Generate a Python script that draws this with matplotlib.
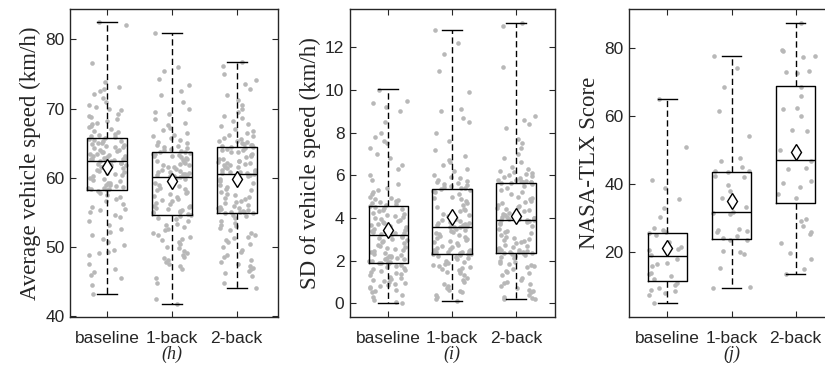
import numpy as np
import matplotlib
matplotlib.use("Agg")
import matplotlib.pyplot as plt

# groups shown on every panel
groups = ["baseline", "1-back", "2-back"]

# ---- panel (h): average vehicle speed (km/h) ----
speed_baseline = [
    82.5, 82.1, 76.6, 73.8, 73.2, 72.8, 72.5, 72.1, 71.5, 71.0, 70.6, 70.3, 70.0, 69.8, 69.2, 69.0,
    68.8, 68.5, 68.2, 68.0, 67.8, 67.5, 67.3, 67.0, 66.8, 66.6, 66.4, 66.2, 66.0, 65.9,
    65.7, 65.6, 65.5, 65.4, 65.3, 65.1, 65.0, 64.9, 64.8, 64.6, 64.5, 64.4, 64.3, 64.1, 64.0, 63.9,
    63.8, 63.7, 63.5, 63.4, 63.3, 63.2, 63.1, 63.0, 62.9, 62.9, 62.8, 62.7, 62.7, 62.6, 62.6, 62.5,
    62.4, 62.3, 62.2, 62.1, 62.0, 61.9, 61.8, 61.6, 61.5, 61.4, 61.2, 61.0, 60.9, 60.7, 60.5, 60.4,
    60.2, 60.0, 59.9, 59.7, 59.5, 59.3, 59.2, 59.0, 58.9, 58.8, 58.7, 58.6, 58.5, 58.4, 58.4, 58.3,
    58.1, 57.8, 57.5, 57.3, 57.0, 56.6, 56.2, 55.8, 55.5, 55.3, 55.0, 54.6, 54.3, 53.8, 53.2, 52.6,
    52.2, 51.8, 51.2, 50.8, 50.3, 49.6, 49.3, 49.1, 48.9, 47.5, 46.9, 46.4, 46.0, 45.6, 44.5, 43.2,
]
speed_1back = [
    80.9, 76.0, 75.4, 74.3, 73.4, 72.5, 72.0, 71.0, 70.0, 69.5, 69.3, 68.5, 68.0, 67.6, 67.2, 66.9,
    66.5, 66.2, 66.0, 65.7, 65.5, 65.2, 65.0, 64.8, 64.6, 64.5, 64.3, 64.2, 64.0, 63.9, 63.8, 63.7,
    63.6, 63.5, 63.4, 63.3, 63.2, 63.1, 63.0, 62.9, 62.7, 62.6, 62.5, 62.3, 62.2, 62.0, 61.9, 61.8,
    61.6, 61.5, 61.3, 61.2, 61.0, 60.9, 60.8, 60.7, 60.6, 60.5, 60.4, 60.4, 60.3, 60.2, 60.2, 60.1,
    60.0, 59.8, 59.6, 59.4, 59.2, 59.0, 58.8, 58.6, 58.4, 58.2, 58.0, 57.8, 57.6, 57.4, 57.2, 57.0,
    56.8, 56.6, 56.4, 56.2, 56.0, 55.9, 55.8, 55.6, 55.5, 55.4, 55.2, 55.1, 55.0, 54.9, 54.8, 54.7,
    54.5, 54.2, 54.0, 53.7, 53.4, 53.2, 52.9, 52.6, 52.4, 52.1, 51.8, 51.5, 51.2, 51.0, 50.8, 50.4,
    50.0, 49.8, 49.5, 49.2, 48.9, 48.6, 48.4, 48.1, 47.8, 47.5, 47.2, 46.8, 45.5, 44.8, 42.5, 41.8,
]
speed_2back = [
    76.8, 76.2, 75.0, 74.2, 73.5, 72.8, 72.0, 71.3, 70.6, 70.0, 69.5, 69.0, 68.6, 68.2, 67.8, 67.5,
    67.1, 66.8, 66.5, 66.2, 66.0, 65.8, 65.6, 65.4, 65.3, 65.2, 65.0, 64.9, 64.8, 64.7, 64.6, 64.5,
    64.4, 64.3, 64.2, 64.1, 64.0, 63.8, 63.7, 63.5, 63.3, 63.2, 63.0, 62.8, 62.7, 62.5, 62.4, 62.3,
    62.2, 62.1, 62.0, 61.9, 61.8, 61.6, 61.5, 61.4, 61.2, 61.1, 61.0, 60.9, 60.8, 60.7, 60.7, 60.6,
    60.4, 60.2, 59.9, 59.6, 59.3, 59.0, 58.7, 58.4, 58.2, 57.9, 57.7, 57.5, 57.3, 57.1, 56.9, 56.7,
    56.5, 56.3, 56.1, 55.9, 55.8, 55.7, 55.6, 55.5, 55.4, 55.3, 55.2, 55.1, 55.0, 55.0, 54.9, 54.9,
    54.7, 54.5, 54.2, 53.8, 53.5, 53.2, 53.0, 52.7, 52.4, 52.1, 51.8, 51.5, 51.3, 51.0, 50.8, 50.5,
    50.0, 49.6, 49.3, 48.9, 48.5, 48.2, 47.9, 47.6, 47.3, 47.0, 46.8, 46.5, 46.2, 45.8, 44.8, 44.1,
]
speed_q1 = [58.3, 54.7, 54.9]
speed_med = [62.5, 60.1, 60.6]
speed_q3 = [65.8, 63.7, 64.5]
speed_lo = [43.2, 41.8, 44.1]
speed_hi = [82.5, 80.9, 76.8]
speed_mean = [61.6, 59.5, 59.8]

# ---- panel (i): SD of vehicle speed (km/h) ----
sd_baseline = [
    10.0, 9.5, 9.4, 9.2, 9.0, 8.5, 8.0, 7.8, 7.6, 7.5, 7.3, 7.0, 6.8, 6.5, 6.3, 6.0,
    5.8, 5.6, 5.4, 5.3, 5.2, 5.1, 5.0, 4.95, 4.9, 4.85, 4.8, 4.75, 4.7, 4.65, 4.6, 4.55,
    4.5, 4.45, 4.4, 4.35, 4.3, 4.25, 4.2, 4.15, 4.1, 4.05, 4.0, 3.95, 3.9, 3.85, 3.8, 3.75,
    3.7, 3.65, 3.6, 3.55, 3.5, 3.45, 3.45, 3.4, 3.4, 3.35, 3.3, 3.3, 3.25, 3.25, 3.2, 3.2,
    3.15, 3.1, 3.05, 3.0, 2.95, 2.9, 2.85, 2.8, 2.75, 2.7, 2.65, 2.6, 2.55, 2.5, 2.45, 2.4,
    2.35, 2.3, 2.25, 2.2, 2.2, 2.15, 2.1, 2.1, 2.05, 2.05, 2.0, 2.0, 1.95, 1.95, 1.9, 1.9,
    1.85, 1.8, 1.75, 1.7, 1.65, 1.6, 1.55, 1.5, 1.45, 1.4, 1.35, 1.3, 1.25, 1.2, 1.15, 1.1,
    1.05, 1.0, 0.95, 0.9, 0.85, 0.8, 0.75, 0.7, 0.6, 0.55, 0.5, 0.4, 0.3, 0.15, 0.05, 0.0,
]
sd_1back = [
    12.8, 12.2, 11.7, 10.9, 9.9, 9.1, 9.0, 8.7, 8.5, 8.0, 7.6, 7.2, 6.9, 6.7, 6.6, 6.5,
    6.3, 6.2, 6.0, 5.9, 5.85, 5.8, 5.75, 5.7, 5.65, 5.6, 5.55, 5.5, 5.45, 5.4, 5.4, 5.35,
    5.3, 5.25, 5.2, 5.1, 5.0, 4.95, 4.9, 4.8, 4.7, 4.6, 4.5, 4.4, 4.35, 4.3, 4.2, 4.15,
    4.1, 4.0, 3.95, 3.9, 3.85, 3.8, 3.78, 3.75, 3.7, 3.68, 3.65, 3.62, 3.6, 3.58, 3.56, 3.55,
    3.5, 3.45, 3.4, 3.35, 3.3, 3.25, 3.2, 3.15, 3.1, 3.05, 3.0, 2.95, 2.9, 2.85, 2.8, 2.75,
    2.7, 2.65, 2.6, 2.55, 2.5, 2.48, 2.45, 2.42, 2.4, 2.38, 2.36, 2.34, 2.32, 2.31, 2.3, 2.3,
    2.25, 2.2, 2.15, 2.1, 2.05, 2.0, 1.95, 1.9, 1.85, 1.8, 1.75, 1.7, 1.65, 1.6, 1.55, 1.5,
    1.45, 1.4, 1.3, 1.2, 1.1, 1.0, 0.9, 0.8, 0.7, 0.6, 0.55, 0.5, 0.4, 0.3, 0.2, 0.12,
]
sd_2back = [
    13.15, 13.0, 11.1, 8.8, 8.6, 8.4, 8.2, 7.7, 7.5, 7.3, 7.0, 6.8, 6.6, 6.4, 6.3, 6.2,
    6.15, 6.1, 6.05, 6.0, 5.95, 5.9, 5.85, 5.8, 5.78, 5.75, 5.72, 5.7, 5.68, 5.67, 5.66, 5.65,
    5.6, 5.5, 5.4, 5.3, 5.2, 5.1, 5.0, 4.95, 4.9, 4.8, 4.75, 4.7, 4.6, 4.55, 4.5, 4.45,
    4.4, 4.35, 4.3, 4.25, 4.2, 4.15, 4.1, 4.05, 4.02, 4.0, 3.98, 3.96, 3.94, 3.92, 3.91, 3.9,
    3.85, 3.8, 3.75, 3.7, 3.6, 3.5, 3.4, 3.35, 3.3, 3.2, 3.1, 3.05, 3.0, 2.95, 2.9, 2.85,
    2.8, 2.75, 2.7, 2.65, 2.6, 2.55, 2.5, 2.48, 2.45, 2.43, 2.41, 2.4, 2.38, 2.37, 2.36, 2.35,
    2.3, 2.25, 2.2, 2.15, 2.1, 2.0, 1.95, 1.9, 1.85, 1.8, 1.75, 1.7, 1.6, 1.5, 1.45, 1.4,
    1.3, 1.2, 1.1, 1.0, 0.95, 0.9, 0.8, 0.7, 0.6, 0.55, 0.5, 0.4, 0.3, 0.25, 0.2, 0.18,
]
sd_q1 = [1.9, 2.3, 2.35]
sd_med = [3.2, 3.55, 3.9]
sd_q3 = [4.55, 5.35, 5.65]
sd_lo = [0.0, 0.12, 0.18]
sd_hi = [10.05, 12.8, 13.15]
sd_mean = [3.45, 4.05, 4.1]

# ---- panel (j): NASA-TLX score ----
tlx_baseline = [65.0, 50.7, 41.3, 38.7, 35.5, 33.1, 30.4, 27.0, 26.5, 26.0, 25.5, 25.0, 23.0, 21.6, 21.0, 20.5,
                19.1, 18.0, 16.7, 16.5, 16.0, 13.8, 13.5, 13.0, 12.0, 10.9, 10.5, 9.5, 8.8, 8.5, 8.0, 7.5, 5.1]
tlx_1back = [77.5, 73.9, 68.3, 61.4, 54.1, 47.5, 46.8, 45.0, 43.8, 43.8, 43.5, 42.3, 42.0, 39.7, 38.0, 35.8, 33.3,
             31.7, 31.5, 31.2, 26.8, 26.5, 26.2, 25.8, 24.8, 24.3, 23.7, 23.5, 20.3, 20.0, 19.6, 15.4, 9.9, 9.6]
tlx_2back = [87.3, 79.3, 79.0, 77.6, 77.2, 73.2, 72.8, 72.4, 68.5, 65.9, 62.3, 61.9, 59.9, 55.9, 55.5, 49.9, 49.7,
             46.7, 44.6, 44.3, 40.8, 40.3, 39.2, 37.2, 35.8, 29.6, 29.2, 27.6, 25.8, 25.3, 22.6, 19.8, 17.9, 15.2, 13.7]
tlx_q1 = [11.6, 24.0, 34.5]
tlx_med = [19.0, 31.7, 47.0]
tlx_q3 = [25.5, 43.6, 68.7]
tlx_lo = [5.1, 9.6, 13.7]
tlx_hi = [65.0, 77.5, 87.3]
tlx_mean = [21.3, 35.0, 49.4]

SANS = "Liberation Sans"
SERIF = "Liberation Serif"
AX_COLOR = "#262626"


def spread(n, seed):
    # fixed sideways spread in [-0.5, 0.5), a hash of the point index
    k = np.arange(n) + seed * 1000
    return (np.sin(k * 12.9898 + 78.233) * 43758.5453) % 1.0 - 0.5


def draw_panel(ax, points, q1, med, q3, lo, hi, means, ylabel, caption, yticks, ylim, xlim):
    pos = np.arange(1, len(groups) + 1)
    for p, vals in zip(pos, points):
        offs = spread(len(vals), p) * 0.6
        ax.scatter(p + offs, vals, s=11, color="#b8b8b8", linewidths=0, zorder=1)

    stats = []
    for i, g in enumerate(groups):
        stats.append(dict(label=g, q1=q1[i], med=med[i], q3=q3[i],
                          whislo=lo[i], whishi=hi[i], fliers=[]))
    ax.bxp(stats, positions=pos, widths=0.62, capwidths=0.31, showfliers=False,
           boxprops=dict(color="black", linewidth=1.0),
           medianprops=dict(color="black", linewidth=1.0),
           whiskerprops=dict(color="black", linewidth=1.0, linestyle=(0, (4.5, 2.5))),
           capprops=dict(color="black", linewidth=1.0),
           manage_ticks=False, zorder=2)
    ax.plot(pos, means, linestyle="none", marker="d", markersize=8,
            markerfacecolor="white", markeredgecolor="black", markeredgewidth=1.0, zorder=3)

    ax.set_xlim(*xlim)
    ax.set_ylim(*ylim)
    ax.set_xticks(pos)
    ax.set_xticklabels(groups, fontfamily=SANS, fontsize=12.5)
    ax.set_yticks(yticks)
    ax.set_yticklabels([str(t) for t in yticks], fontfamily=SANS, fontsize=12.5)
    ax.tick_params(direction="in", length=4, width=0.8, colors=AX_COLOR,
                   top=True, right=True, pad=4)
    ax.tick_params(axis="x", pad=10)
    for sp in ax.spines.values():
        sp.set_color(AX_COLOR)
        sp.set_linewidth(1.0)
    ax.set_ylabel(ylabel, fontfamily=SERIF, fontsize=16.5, color=AX_COLOR, labelpad=3)
    ax.text(2, -0.12, caption, transform=ax.get_xaxis_transform(), ha="center", va="center",
            fontfamily=SERIF, fontstyle="italic", fontsize=13, color=AX_COLOR)


fig = plt.figure(figsize=(8.25, 3.7), dpi=100)
bottom = 53 / 370
height = 308 / 370
ax_h = fig.add_axes([70 / 825, bottom, 208 / 825, height])
ax_i = fig.add_axes([350 / 825, bottom, 205 / 825, height])
ax_j = fig.add_axes([629 / 825, bottom, 205 / 825, height])

draw_panel(ax_h, [speed_baseline, speed_1back, speed_2back], speed_q1, speed_med, speed_q3,
           speed_lo, speed_hi, speed_mean, "Average vehicle speed (km/h)", "(h)",
           [40, 50, 60, 70, 80], (39.9, 84.4), (0.42, 3.64))
draw_panel(ax_i, [sd_baseline, sd_1back, sd_2back], sd_q1, sd_med, sd_q3,
           sd_lo, sd_hi, sd_mean, "SD of vehicle speed (km/h)", "(i)",
           [0, 2, 4, 6, 8, 10, 12], (-0.65, 13.8), (0.4, 3.61))
draw_panel(ax_j, [tlx_baseline, tlx_1back, tlx_2back], tlx_q1, tlx_med, tlx_q3,
           tlx_lo, tlx_hi, tlx_mean, "NASA-TLX Score", "(j)",
           [20, 40, 60, 80], (1.0, 91.3), (0.4, 3.6))

fig.savefig("out.png", dpi=100)
